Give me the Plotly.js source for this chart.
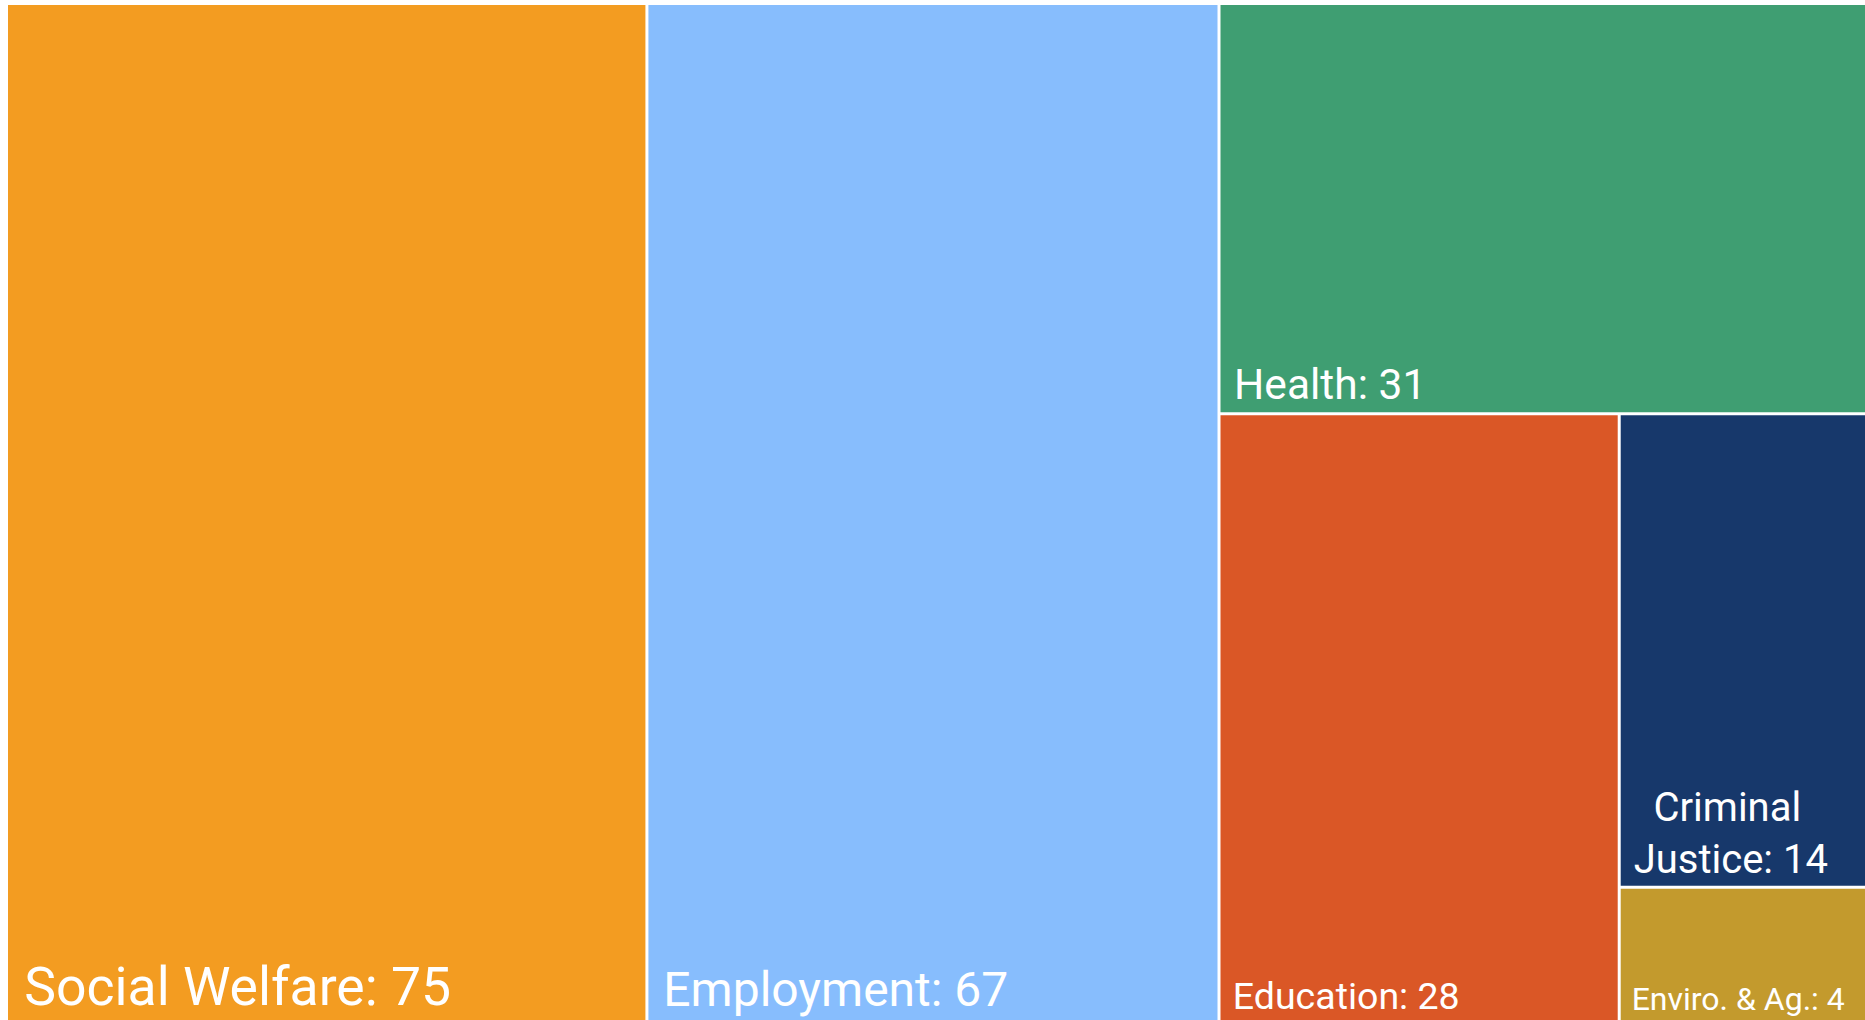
<!DOCTYPE html>
<html>
<head>
<meta charset="utf-8">
<script src="https://cdn.plot.ly/plotly-3.0.1.min.js"></script>
<style>html,body{margin:0;padding:0;background:#fff;overflow:hidden;}#chart{width:1875px;height:1021px;}</style>
</head>
<body>
<div id="chart"></div>
<script>
// Categories and values
const labels = ["Social Welfare", "Employment", "Health", "Education", "Criminal Justice", "Enviro. & Ag."];
const values = [75, 67, 31, 28, 14, 4];
// Label text as shown on the tiles (line breaks, small leading indent)
const tileText = ["\u00a0Social Welfare", "\u00a0Employment", "\u00a0Health", "\u00a0Education",
                  "\u00a0\u00a0\u00a0Criminal<br>\u00a0Justice", "\u00a0Enviro. & Ag."];
const colors = ["#F39C21", "#87BDFD", "#3F9E72", "#DA5726", "#17386B", "#C39A2D"];
const fontSizes = [53.5, 48, 42.5, 37.5, 40, 32];

const trace = {
  type: "treemap",
  labels: labels,
  parents: labels.map(() => ""),
  values: values,
  text: tileText,
  sort: false,
  textposition: "bottom left",
  texttemplate: "%{text}: %{value}",
  hovertemplate: "%{label}: %{value}<extra></extra>",
  marker: {
    colors: colors,
    line: { color: "#ffffff", width: 0 },
    pad: { t: 0, l: 0, r: 0, b: 0 }
  },
  textfont: { family: "Roboto, sans-serif", color: "#ffffff", size: fontSizes },
  tiling: { packing: "squarify", pad: 3 },
  pathbar: { visible: false }
};

const layout = {
  width: 1875, height: 1021,
  margin: { l: 8, r: 0, t: 5, b: 0 },
  paper_bgcolor: "#ffffff",
  showlegend: false
};

Plotly.newPlot("chart", [trace], layout, { displayModeBar: false });
</script>
</body>
</html>
